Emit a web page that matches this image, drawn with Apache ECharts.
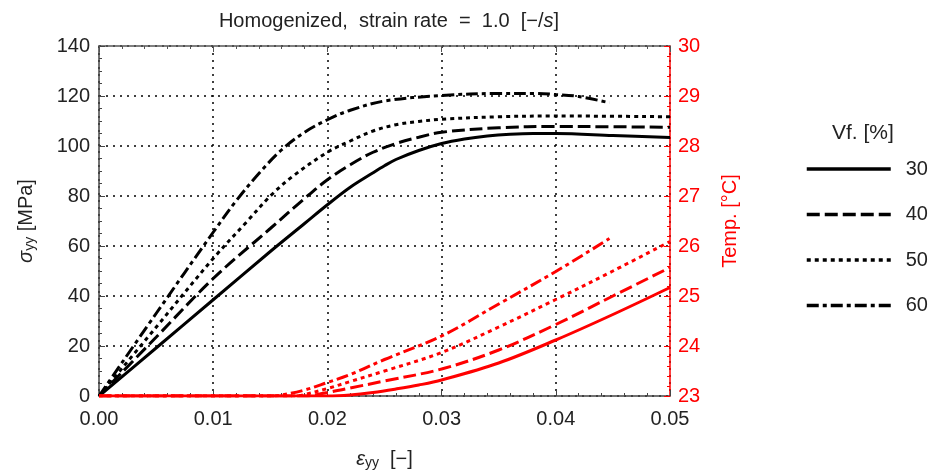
<!DOCTYPE html>
<html>
<head>
<meta charset="utf-8">
<script src="https://cdn.jsdelivr.net/npm/echarts@6/dist/echarts.min.js"></script>
<style>html,body{margin:0;padding:0;background:#fff}#c{width:938px;height:475px}</style>
</head>
<body>
<div id="c"></div>
<script>
// ---- data ----
const legendLabels = ['30', '40', '50', '60'];
const xTicks = [0, 0.01, 0.02, 0.03, 0.04, 0.05];

// stress (MPa) vs strain
const strain30 = [0, 0.005, 0.01, 0.015, 0.018, 0.02, 0.022, 0.024, 0.025, 0.026, 0.028, 0.03, 0.032, 0.034, 0.036, 0.038, 0.04, 0.045, 0.05];
const stress30 = [0, 19.2, 38.5, 57.8, 69, 76.5, 83.5, 89.3, 92.1, 94.6, 98.2, 101, 102.8, 104, 104.7, 105, 105, 104.2, 103.4];

const strain40 = [0, 0.005, 0.01, 0.015, 0.018, 0.02, 0.022, 0.024, 0.026, 0.028, 0.03, 0.035, 0.04, 0.045, 0.05];
const stress40 = [0, 23.5, 47, 67, 79, 86.5, 92.5, 97.5, 101, 103.5, 105.5, 107.3, 107.8, 107.7, 107.5];

const strain50 = [0, 0.005, 0.01, 0.013, 0.015, 0.017, 0.02, 0.022, 0.024, 0.026, 0.028, 0.03, 0.035, 0.04, 0.05];
const stress50 = [0, 27.5, 55, 70, 80, 88, 97.5, 102, 106, 108.5, 109.8, 110.7, 111.7, 112, 111.7];

const strain60 = [0, 0.005, 0.01, 0.012, 0.014, 0.016, 0.018, 0.02, 0.022, 0.025, 0.03, 0.035, 0.038, 0.04, 0.042, 0.0447];
const stress60 = [0, 33, 65.5, 78, 89, 98.5, 105.5, 110.5, 114.3, 118, 120.2, 121, 121, 120.6, 119.8, 117.3];

// temperature (°C) vs strain
const tStrain30 = [0, 0.02, 0.022, 0.024, 0.026, 0.028, 0.03, 0.035, 0.04, 0.045, 0.05];
const temp30 = [23, 23, 23.02, 23.07, 23.14, 23.22, 23.32, 23.66, 24.12, 24.63, 25.17];

const tStrain40 = [0, 0.018, 0.02, 0.022, 0.025, 0.03, 0.035, 0.04, 0.045, 0.05];
const temp40 = [23, 23, 23.07, 23.16, 23.3, 23.54, 23.92, 24.43, 25.0, 25.57];

const tStrain50 = [0, 0.017, 0.018, 0.02, 0.022, 0.025, 0.03, 0.035, 0.04, 0.045, 0.05];
const temp50 = [23, 23, 23.03, 23.15, 23.29, 23.5, 23.87, 24.38, 24.93, 25.5, 26.09];

const tStrain60 = [0, 0.015, 0.016, 0.018, 0.02, 0.022, 0.025, 0.03, 0.035, 0.04, 0.0447];
const temp60 = [23, 23, 23.02, 23.12, 23.27, 23.43, 23.73, 24.2, 24.84, 25.49, 26.15];

// ---- chart ----
const zip = (xs, ys) => xs.map((x, i) => [x, ys[i]]);
const FONT = 'Liberation Sans, Arial, sans-serif';
const TXT = '#222';
const dashStyles = ['solid', [13, 5], [4, 4], [12, 4, 4, 4]];

const stressSets = [[strain30, stress30], [strain40, stress40], [strain50, stress50], [strain60, stress60]];
const tempSets = [[tStrain30, temp30], [tStrain40, temp40], [tStrain50, temp50], [tStrain60, temp60]];

const series = [];
stressSets.forEach((s, i) => {
  series.push({
    name: legendLabels[i], type: 'line', xAxisIndex: 0, yAxisIndex: 0,
    data: zip(s[0], s[1]), showSymbol: false, symbol: 'none', smooth: 0.35,
    lineStyle: { color: '#000', width: 3, type: dashStyles[i], cap: 'butt' },
    itemStyle: { color: '#000' }, z: 5
  });
});
tempSets.forEach((s, i) => {
  series.push({
    name: 'T' + legendLabels[i], type: 'line', xAxisIndex: 0, yAxisIndex: 1,
    data: zip(s[0], s[1]), showSymbol: false, symbol: 'none', smooth: 0.35,
    lineStyle: { color: '#ff0000', width: 3, type: dashStyles[i], cap: 'butt' },
    itemStyle: { color: '#ff0000' }, z: 6
  });
});

const chart = echarts.init(document.getElementById('c'), null, { renderer: 'canvas' });
chart.setOption({
  animation: false,
  backgroundColor: '#fff',
  textStyle: { fontFamily: FONT },
  title: {
    text: '{n|Homogenized,  strain rate  =  1.0  [−/}{i|s}{n|]}',
    left: 384, top: 6, textAlign: 'center',
    textStyle: {
      fontWeight: 'normal',
      rich: {
        n: { fontSize: 20, fontFamily: FONT, color: TXT, fontWeight: 'normal' },
        i: { fontSize: 20, fontFamily: FONT, color: TXT, fontStyle: 'italic', fontWeight: 'normal' }
      }
    }
  },
  grid: { left: 99, right: 268, top: 46, bottom: 76, containLabel: false },
  legend: {
    data: legendLabels, orient: 'vertical', left: 800, top: 154,
    itemWidth: 84, itemHeight: 20, itemGap: 25.5,
    textStyle: { fontSize: 20, color: TXT, fontFamily: FONT, padding: [0, 0, 0, 10] },
    lineStyle: { width: 3.5 },
    itemStyle: { color: 'rgba(0,0,0,0)', borderColor: 'rgba(0,0,0,0)', borderWidth: 0, opacity: 0 },
    selectedMode: false
  },
  graphic: [{
    type: 'text', left: 832, top: 123,
    style: { text: 'Vf. [%]', font: '21px ' + FONT, fill: TXT }
  }],
  xAxis: [{
    type: 'value', min: 0, max: 0.05, interval: 0.01, position: 'bottom',
    name: '{i|ε}{s|yy}{n|  [−]}', nameLocation: 'middle', nameGap: 52,
    nameTextStyle: {
      rich: {
        i: { fontSize: 20, fontFamily: FONT, color: TXT, fontStyle: 'italic' },
        s: { fontSize: 14, fontFamily: FONT, color: TXT, padding: [8, 0, 0, 0] },
        n: { fontSize: 20, fontFamily: FONT, color: TXT }
      }
    },
    axisLine: { show: true, onZero: false, lineStyle: { color: '#444', width: 1.5 } },
    axisTick: { show: true, inside: true, length: 6, lineStyle: { color: '#444' } },
    minorTick: { show: true, splitNumber: 5, length: 3, lineStyle: { color: '#444' } },
    axisLabel: { fontSize: 20, color: TXT, margin: 13, formatter: v => v.toFixed(2) },
    splitLine: { show: true, lineStyle: { color: '#000', type: [2, 5], width: 1.5 } }
  }, {
    type: 'value', min: 0, max: 0.05, interval: 0.01, position: 'top',
    axisLine: { show: true, onZero: false, lineStyle: { color: '#555', width: 1.5 } },
    axisTick: { show: true, inside: true, length: 6, lineStyle: { color: '#555' } },
    minorTick: { show: true, splitNumber: 5, length: 3, lineStyle: { color: '#555' } },
    axisLabel: { show: false }, splitLine: { show: false }
  }],
  yAxis: [{
    type: 'value', min: 0, max: 140, interval: 20, position: 'left',
    name: '{i|σ}{s|yy}{n| [MPa]}', nameLocation: 'middle', nameGap: 62, nameRotate: 90,
    nameTextStyle: {
      rich: {
        i: { fontSize: 20, fontFamily: FONT, color: TXT, fontStyle: 'italic' },
        s: { fontSize: 14, fontFamily: FONT, color: TXT, padding: [8, 0, 0, 0] },
        n: { fontSize: 20, fontFamily: FONT, color: TXT }
      }
    },
    axisLine: { show: true, onZero: false, lineStyle: { color: '#444', width: 1.5 } },
    axisTick: { show: true, inside: true, length: 6, lineStyle: { color: '#444' } },
    minorTick: { show: true, splitNumber: 4, length: 3, lineStyle: { color: '#444' } },
    axisLabel: { fontSize: 20, color: TXT, margin: 9 },
    splitLine: { show: true, lineStyle: { color: '#000', type: [2, 5], width: 1.5 } }
  }, {
    type: 'value', min: 23, max: 30, interval: 1, position: 'right',
    name: 'Temp. [°C]', nameLocation: 'middle', nameGap: 50, nameRotate: 90,
    nameTextStyle: { fontSize: 20, color: '#ff0000', fontFamily: FONT },
    axisLine: { show: true, onZero: false, lineStyle: { color: '#ff0000', width: 1.5 } },
    axisTick: { show: true, inside: true, length: 6, lineStyle: { color: '#ff0000' } },
    minorTick: { show: true, splitNumber: 5, length: 3, lineStyle: { color: '#ff0000' } },
    axisLabel: { fontSize: 20, color: '#ff0000', margin: 8 },
    splitLine: { show: false }
  }],
  series: series
});
</script>
</body>
</html>
